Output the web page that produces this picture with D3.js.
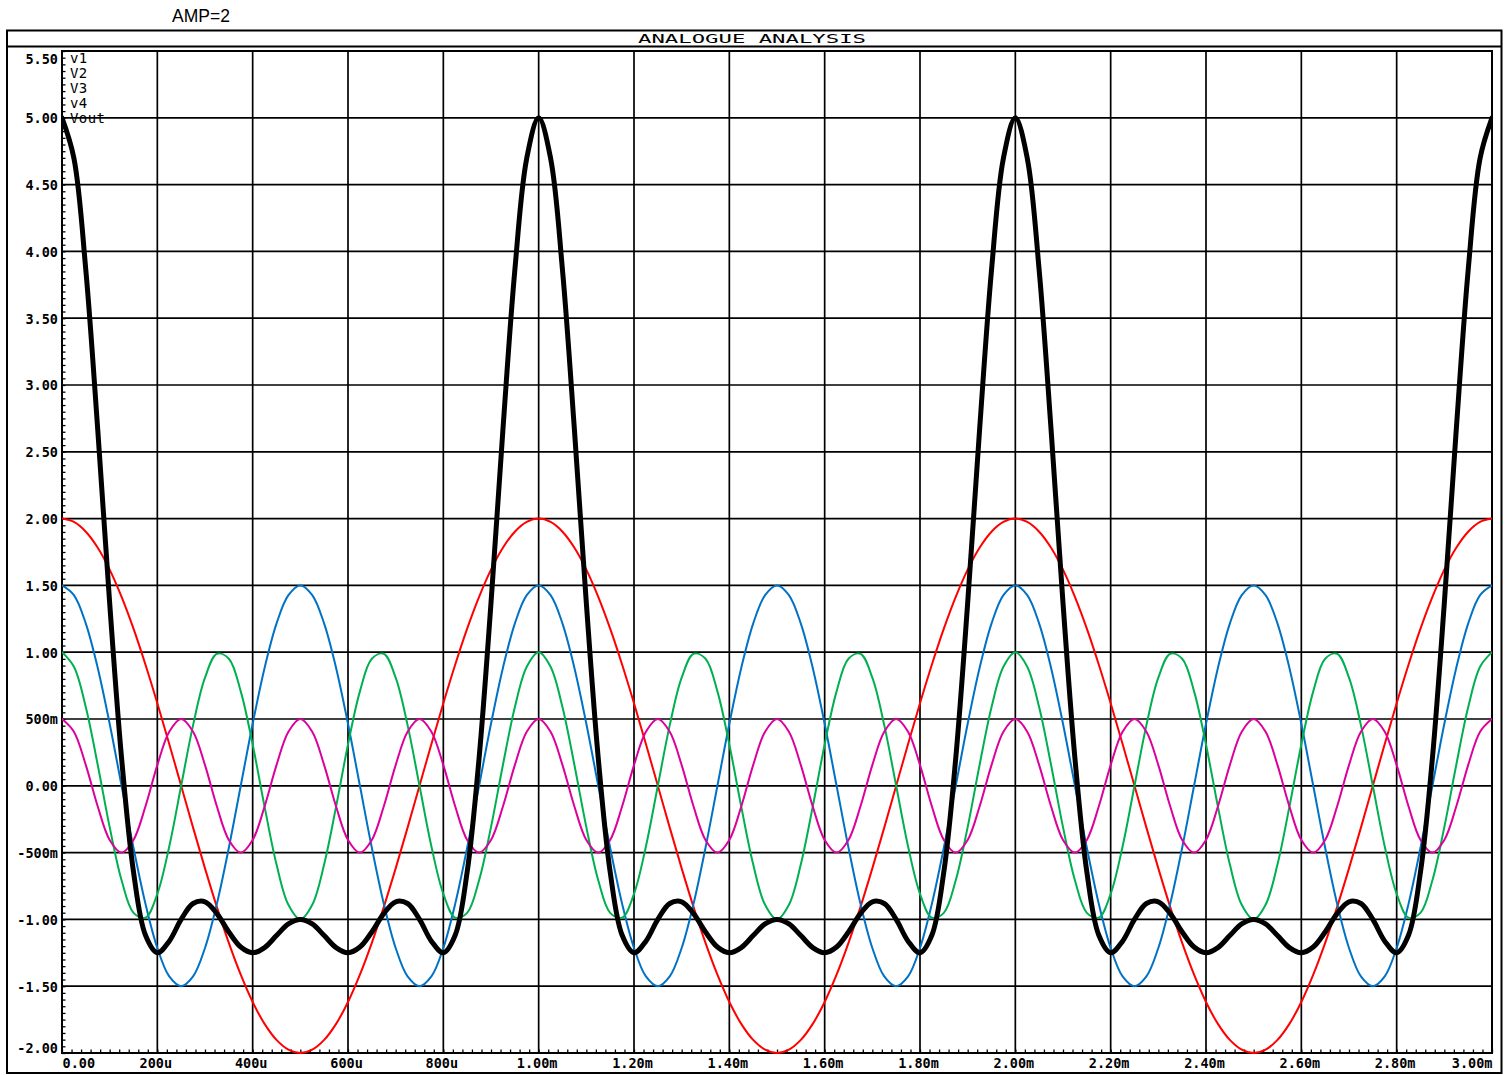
<!DOCTYPE html>
<html><head><meta charset="utf-8">
<script src="https://cdn.jsdelivr.net/npm/d3@7"></script>
<style>
html,body{margin:0;padding:0;background:#fff;}
svg{display:block;}
.mono{font-family:"DejaVu Sans Mono",monospace;}
</style></head>
<body>
<svg id="chart" width="1507" height="1075"></svg>
<script>
// ---- data (time in microseconds, values in volts) ----
const timeUs = [0,25,50,75,100,125,150,175,200,225,250,275,300,325,350,375,400,425,450,475,500,525,550,575,600,625,650,675,700,725,750,775,800,825,850,875,900,925,950,975,1000,1025,1050,1075,1100,1125,1150,1175,1200,1225,1250,1275,1300,1325,1350,1375,1400,1425,1450,1475,1500,1525,1550,1575,1600,1625,1650,1675,1700,1725,1750,1775,1800,1825,1850,1875,1900,1925,1950,1975,2000,2025,2050,2075,2100,2125,2150,2175,2200,2225,2250,2275,2300,2325,2350,2375,2400,2425,2450,2475,2500,2525,2550,2575,2600,2625,2650,2675,2700,2725,2750,2775,2800,2825,2850,2875,2900,2925,2950,2975,3000];

const v1 = [2.000,1.975,1.902,1.782,1.618,1.414,1.176,0.908,0.618,0.313,0.000,-0.313,-0.618,-0.908,-1.176,-1.414,-1.618,-1.782,-1.902,-1.975,-2.000,-1.975,-1.902,-1.782,-1.618,-1.414,-1.176,-0.908,-0.618,-0.313,0.000,0.313,0.618,0.908,1.176,1.414,1.618,1.782,1.902,1.975,
2.000,1.975,1.902,1.782,1.618,1.414,1.176,0.908,0.618,0.313,0.000,-0.313,-0.618,-0.908,-1.176,-1.414,-1.618,-1.782,-1.902,-1.975,-2.000,-1.975,-1.902,-1.782,-1.618,-1.414,-1.176,-0.908,-0.618,-0.313,0.000,0.313,0.618,0.908,1.176,1.414,1.618,1.782,1.902,1.975,
2.000,1.975,1.902,1.782,1.618,1.414,1.176,0.908,0.618,0.313,0.000,-0.313,-0.618,-0.908,-1.176,-1.414,-1.618,-1.782,-1.902,-1.975,-2.000,-1.975,-1.902,-1.782,-1.618,-1.414,-1.176,-0.908,-0.618,-0.313,0.000,0.313,0.618,0.908,1.176,1.414,1.618,1.782,1.902,1.975,
2.000];

const v2 = [1.500,1.427,1.214,0.882,0.464,0.000,-0.464,-0.882,-1.214,-1.427,-1.500,-1.427,-1.214,-0.882,-0.464,0.000,0.464,0.882,1.214,1.427,1.500,1.427,1.214,0.882,0.464,0.000,-0.464,-0.882,-1.214,-1.427,-1.500,-1.427,-1.214,-0.882,-0.464,0.000,0.464,0.882,1.214,1.427,
1.500,1.427,1.214,0.882,0.464,0.000,-0.464,-0.882,-1.214,-1.427,-1.500,-1.427,-1.214,-0.882,-0.464,0.000,0.464,0.882,1.214,1.427,1.500,1.427,1.214,0.882,0.464,0.000,-0.464,-0.882,-1.214,-1.427,-1.500,-1.427,-1.214,-0.882,-0.464,0.000,0.464,0.882,1.214,1.427,
1.500,1.427,1.214,0.882,0.464,0.000,-0.464,-0.882,-1.214,-1.427,-1.500,-1.427,-1.214,-0.882,-0.464,0.000,0.464,0.882,1.214,1.427,1.500,1.427,1.214,0.882,0.464,0.000,-0.464,-0.882,-1.214,-1.427,-1.500,-1.427,-1.214,-0.882,-0.464,0.000,0.464,0.882,1.214,1.427,
1.500];

const v3 = [1.000,0.891,0.588,0.156,-0.309,-0.707,-0.951,-0.988,-0.809,-0.454,0.000,0.454,0.809,0.988,0.951,0.707,0.309,-0.156,-0.588,-0.891,-1.000,-0.891,-0.588,-0.156,0.309,0.707,0.951,0.988,0.809,0.454,0.000,-0.454,-0.809,-0.988,-0.951,-0.707,-0.309,0.156,0.588,0.891,
1.000,0.891,0.588,0.156,-0.309,-0.707,-0.951,-0.988,-0.809,-0.454,0.000,0.454,0.809,0.988,0.951,0.707,0.309,-0.156,-0.588,-0.891,-1.000,-0.891,-0.588,-0.156,0.309,0.707,0.951,0.988,0.809,0.454,0.000,-0.454,-0.809,-0.988,-0.951,-0.707,-0.309,0.156,0.588,0.891,
1.000,0.891,0.588,0.156,-0.309,-0.707,-0.951,-0.988,-0.809,-0.454,0.000,0.454,0.809,0.988,0.951,0.707,0.309,-0.156,-0.588,-0.891,-1.000,-0.891,-0.588,-0.156,0.309,0.707,0.951,0.988,0.809,0.454,0.000,-0.454,-0.809,-0.988,-0.951,-0.707,-0.309,0.156,0.588,0.891,
1.000];

const v4 = [0.500,0.405,0.155,-0.155,-0.405,-0.500,-0.405,-0.155,0.155,0.405,0.500,0.405,0.155,-0.155,-0.405,-0.500,-0.405,-0.155,0.155,0.405,0.500,0.405,0.155,-0.155,-0.405,-0.500,-0.405,-0.155,0.155,0.405,0.500,0.405,0.155,-0.155,-0.405,-0.500,-0.405,-0.155,0.155,0.405,
0.500,0.405,0.155,-0.155,-0.405,-0.500,-0.405,-0.155,0.155,0.405,0.500,0.405,0.155,-0.155,-0.405,-0.500,-0.405,-0.155,0.155,0.405,0.500,0.405,0.155,-0.155,-0.405,-0.500,-0.405,-0.155,0.155,0.405,0.500,0.405,0.155,-0.155,-0.405,-0.500,-0.405,-0.155,0.155,0.405,
0.500,0.405,0.155,-0.155,-0.405,-0.500,-0.405,-0.155,0.155,0.405,0.500,0.405,0.155,-0.155,-0.405,-0.500,-0.405,-0.155,0.155,0.405,0.500,0.405,0.155,-0.155,-0.405,-0.500,-0.405,-0.155,0.155,0.405,0.500,0.405,0.155,-0.155,-0.405,-0.500,-0.405,-0.155,0.155,0.405,
0.500];

const vout = [5.000,4.698,3.859,2.665,1.368,0.207,-0.644,-1.117,-1.250,-1.163,-1.000,-0.881,-0.868,-0.957,-1.094,-1.207,-1.250,-1.211,-1.121,-1.034,-1.000,-1.034,-1.121,-1.211,-1.250,-1.207,-1.094,-0.957,-0.868,-0.881,-1.000,-1.163,-1.250,-1.117,-0.644,0.207,1.368,2.665,3.859,4.698,
5.000,4.698,3.859,2.665,1.368,0.207,-0.644,-1.117,-1.250,-1.163,-1.000,-0.881,-0.868,-0.957,-1.094,-1.207,-1.250,-1.211,-1.121,-1.034,-1.000,-1.034,-1.121,-1.211,-1.250,-1.207,-1.094,-0.957,-0.868,-0.881,-1.000,-1.163,-1.250,-1.117,-0.644,0.207,1.368,2.665,3.859,4.698,
5.000,4.698,3.859,2.665,1.368,0.207,-0.644,-1.117,-1.250,-1.163,-1.000,-0.881,-0.868,-0.957,-1.094,-1.207,-1.250,-1.211,-1.121,-1.034,-1.000,-1.034,-1.121,-1.211,-1.250,-1.207,-1.094,-0.957,-0.868,-0.881,-1.000,-1.163,-1.250,-1.117,-0.644,0.207,1.368,2.665,3.859,4.698,
5.000];

const seriesNames = ["v1","V2","V3","v4","Vout"];
const xTickValues = [0,200,400,600,800,1000,1200,1400,1600,1800,2000,2200,2400,2600,2800,3000];
const xTickLabels = ["0.00","200u","400u","600u","800u","1.00m","1.20m","1.40m","1.60m","1.80m","2.00m","2.20m","2.40m","2.60m","2.80m","3.00m"];
const yTickValues = [-2,-1.5,-1,-0.5,0,0.5,1,1.5,2,2.5,3,3.5,4,4.5,5,5.5];
const yTickLabels = ["-2.00","-1.50","-1.00","-500m","0.00","500m","1.00","1.50","2.00","2.50","3.00","3.50","4.00","4.50","5.00","5.50"];
const chartTitle = "ANALOGUE ANALYSIS";
const headerText = "AMP=2";

// ---- layout ----
const svg = d3.select("#chart");
const L = 62, R = 1492, T = 51, B = 1053;
const x = d3.scaleLinear().domain([0, 3000]).range([L, R]);
const y = d3.scaleLinear().domain([-2, 5.5]).range([B, T]);

svg.append("rect").attr("width",1507).attr("height",1075).attr("fill","#fff");

svg.append("text").attr("x",172).attr("y",22)
  .attr("font-family","'Liberation Sans', Arial, sans-serif").attr("font-size",17.5)
  .attr("fill","#000").text(headerText);

// outer frame & title bar
svg.append("rect").attr("x",7).attr("y",30.5).attr("width",1494.5).attr("height",1042.5)
  .attr("fill","none").attr("stroke","#000").attr("stroke-width",2);
svg.append("line").attr("x1",7).attr("x2",1501.5).attr("y1",46.5).attr("y2",46.5)
  .attr("stroke","#000").attr("stroke-width",2);
svg.append("text").attr("class","mono").attr("x",752).attr("y",43)
  .attr("text-anchor","middle").attr("font-size",11.5)
  .attr("textLength",228).attr("lengthAdjust","spacingAndGlyphs")
  .attr("fill","#000").text(chartTitle);

// grid
const grid = svg.append("g");
grid.selectAll("line.gx").data(xTickValues).join("line")
  .attr("x1",d=>x(d)).attr("x2",d=>x(d)).attr("y1",T).attr("y2",B)
  .attr("stroke","#000").attr("stroke-width",1.7);
grid.selectAll("line.gy").data(yTickValues).join("line")
  .attr("class","gy")
  .attr("x1",L).attr("x2",R).attr("y1",d=>y(d)).attr("y2",d=>y(d))
  .attr("stroke","#000").attr("stroke-width",1.7);
svg.append("rect").attr("x",L).attr("y",T).attr("width",R-L).attr("height",B-T)
  .attr("fill","none").attr("stroke","#000").attr("stroke-width",2);

// minor ticks via axes
const yMinor = d3.range(-2, 5.5001, 0.05);
const xMinor = d3.range(0, 3000.1, 20);
const gyMinor = svg.append("g").attr("transform",`translate(${L},0)`)
  .call(d3.axisLeft(y).tickValues(yMinor).tickSize(-3.5).tickFormat(""));
const gxMinor = svg.append("g").attr("transform",`translate(0,${B})`)
  .call(d3.axisBottom(x).tickValues(xMinor).tickSize(-3.5).tickFormat(""));
[gyMinor,gxMinor].forEach(g=>{
  g.select(".domain").remove();
  g.selectAll(".tick line").attr("stroke","#000").attr("stroke-width",1.3);
});

// tick labels via axes
const gyLab = svg.append("g").attr("transform",`translate(${L-4},0)`)
  .call(d3.axisLeft(y).tickValues(yTickValues).tickSize(0)
    .tickFormat((d,i)=>yTickLabels[i]));
gyLab.select(".domain").remove();
gyLab.selectAll(".tick text")
  .attr("font-size",13.5).attr("font-weight","bold")
  .attr("font-family","'DejaVu Sans Mono', monospace")
  .attr("fill","#000").attr("x",0).attr("dy",(d)=> d===5.5 ? "0.95em" : (d===-2 ? "-0.05em" : "0.36em"));

const gxLab = svg.append("g").attr("transform",`translate(0,${B})`)
  .call(d3.axisBottom(x).tickValues(xTickValues).tickSize(0)
    .tickFormat((d,i)=>xTickLabels[i]));
gxLab.select(".domain").remove();
gxLab.selectAll(".tick text")
  .attr("font-size",13.5).attr("font-weight","bold")
  .attr("font-family","'DejaVu Sans Mono', monospace")
  .attr("fill","#000").attr("y",5).attr("dy","0.71em")
  .attr("text-anchor",(d)=> d===0 ? "start" : (d===3000 ? "end" : "middle"))
  .attr("dx",(d)=> (d===0||d===3000) ? 0 : -2);

// curves
const colors = ["#ff0000","#0072c6","#00b050","#dc009c","#000000"];
const widths = [2,2,2,2,5];
const allSeries = [v1,v2,v3,v4,vout];
const line = d3.line().x((d,i)=>x(timeUs[i])).y(d=>y(d)).curve(d3.curveCatmullRom.alpha(0.5));
svg.append("clipPath").attr("id","pc").append("rect")
  .attr("x",L).attr("y",T-3).attr("width",R-L).attr("height",B-T+6);
svg.append("g").attr("clip-path","url(#pc)")
  .selectAll("path").data(allSeries).join("path")
  .attr("d",d=>line(d)).attr("fill","none")
  .attr("stroke",(d,i)=>colors[i]).attr("stroke-width",(d,i)=>widths[i])
  .attr("stroke-linejoin","round").attr("stroke-linecap","round");

// legend names
svg.append("g").selectAll("text").data(seriesNames).join("text")
  .attr("x",70).attr("y",(d,i)=>63+15*i)
  .attr("font-family","'DejaVu Sans Mono', monospace").attr("font-size",14)
  .attr("letter-spacing",0.4)
  .attr("fill","#000").text(d=>d);
</script>
</body></html>
